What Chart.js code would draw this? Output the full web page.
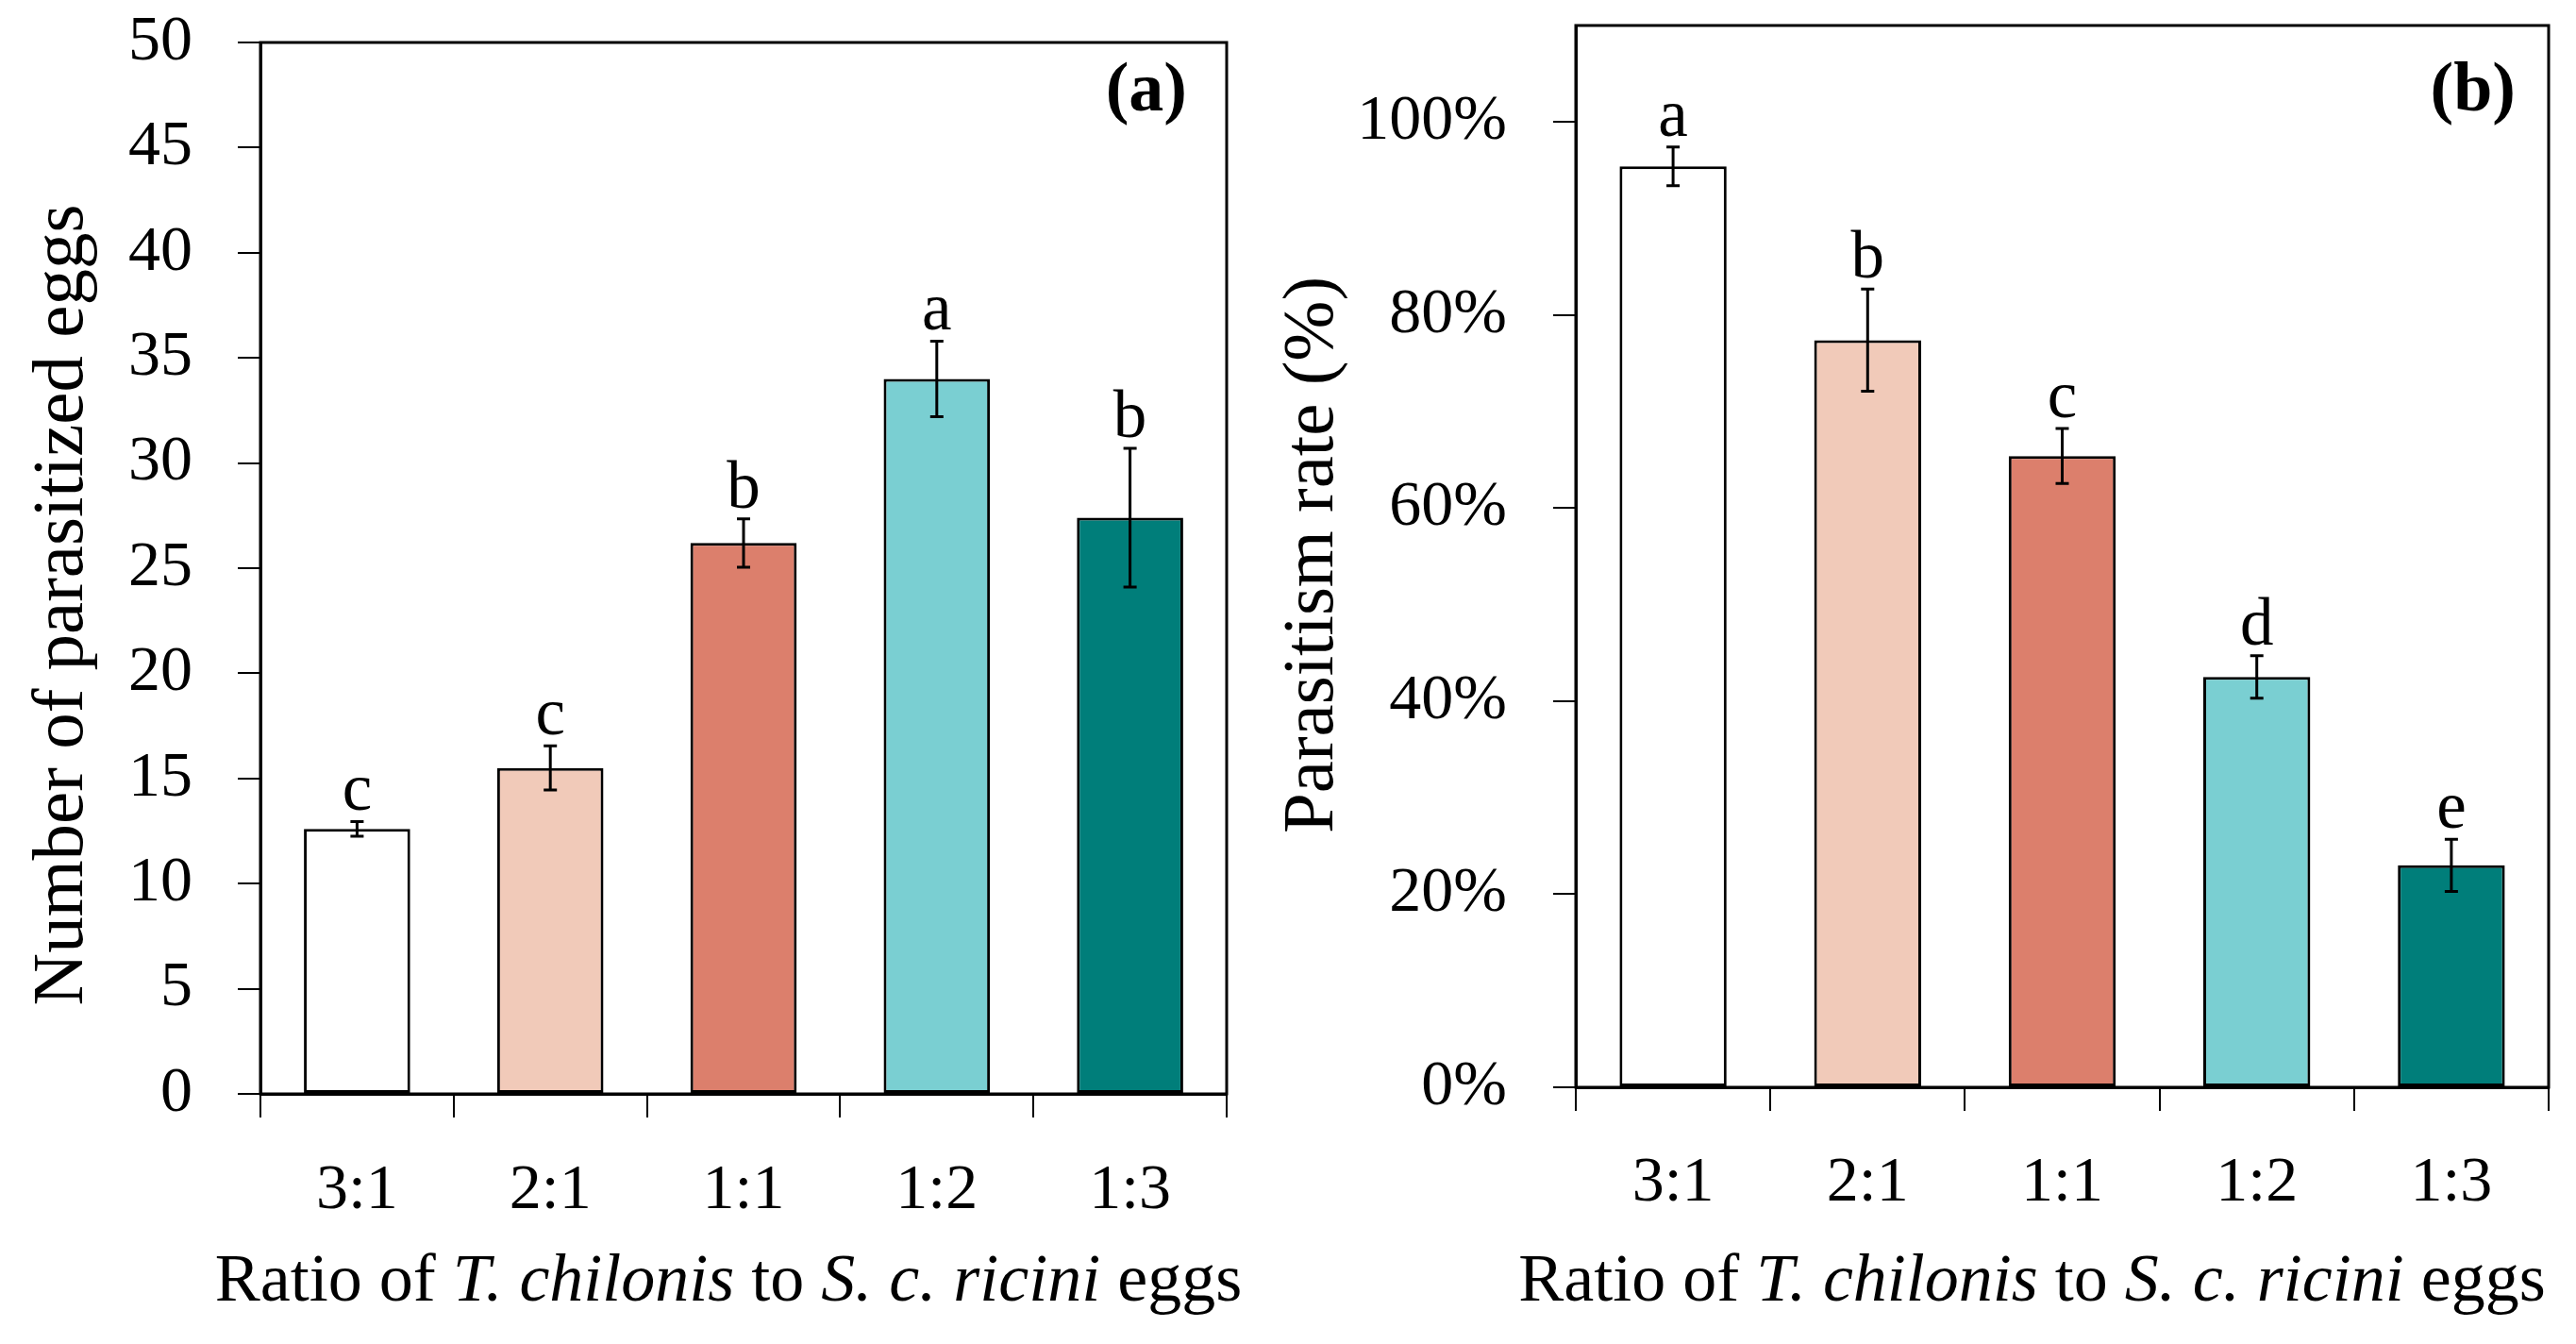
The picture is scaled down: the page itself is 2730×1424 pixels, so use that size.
<!DOCTYPE html>
<html>
<head>
<meta charset="utf-8">
<script src="https://cdn.jsdelivr.net/npm/chart.js@4"></script>
<style>
  html, body { margin: 0; padding: 0; background: #fff; }
  #wrapA { position: absolute; left: 0; top: 0; width: 1340px; height: 1424px; }
  #wrapB { position: absolute; left: 1340px; top: 0; width: 1390px; height: 1424px; }
</style>
</head>
<body>
<div id="wrapA"><canvas id="eggs"></canvas></div>
<div id="wrapB"><canvas id="rate"></canvas></div>
<script>
// ratios on the x axis
const ratios = ['3:1', '2:1', '1:1', '1:2', '1:3'];
const barColors = ['#ffffff', '#f1cab9', '#dc7f6c', '#7acfd2', '#007e7a'];

// (a) number of parasitized eggs
const eggMeans = [12.6, 15.5, 26.2, 34.0, 27.4];
const eggErrors = [0.35, 1.05, 1.15, 1.8, 3.3];
const eggLetters = ['c', 'c', 'b', 'a', 'b'];
const eggTicks = [0, 5, 10, 15, 20, 25, 30, 35, 40, 45, 50];

// (b) parasitism rate, %
const rateMeans = [95.4, 77.4, 65.4, 42.5, 23.0];
const rateErrors = [2.0, 5.3, 2.85, 2.2, 2.7];
const rateLetters = ['a', 'b', 'c', 'd', 'e'];
const rateTicks = [0, 20, 40, 60, 80, 100];

const serif = '"Liberation Serif", "Times New Roman", serif';
const xTitleParts = [
    ['Ratio of ', false],
    ['T. chilonis', true],
    [' to ', false],
    ['S. c. ricini', true],
    [' eggs', false]
];

// error bars, letters, frame, panel tag and axis titles
const decorations = {
    id: 'decorations',
    afterDatasetsDraw(chart, args, opts) {
        const ctx = chart.ctx;
        const area = chart.chartArea;
        const y = chart.scales.y;
        const meta = chart.getDatasetMeta(0);
        const means = chart.data.datasets[0].data;

        ctx.save();
        ctx.strokeStyle = '#000';
        ctx.fillStyle = '#000';
        ctx.lineWidth = 3;

        meta.data.forEach((bar, i) => {
            const top = y.getPixelForValue(means[i] + opts.errors[i]);
            const bottom = y.getPixelForValue(means[i] - opts.errors[i]);
            ctx.beginPath();
            ctx.moveTo(bar.x, top);
            ctx.lineTo(bar.x, bottom);
            ctx.moveTo(bar.x - 7, top);
            ctx.lineTo(bar.x + 7, top);
            ctx.moveTo(bar.x - 7, bottom);
            ctx.lineTo(bar.x + 7, bottom);
            ctx.stroke();

            ctx.font = '71px ' + serif;
            ctx.textAlign = 'center';
            ctx.textBaseline = 'alphabetic';
            ctx.fillText(opts.letters[i], bar.x, top - 12);
        });

        // frame
        ctx.lineWidth = 3;
        ctx.strokeRect(area.left, area.top, area.right - area.left, area.bottom - area.top);

        // panel tag
        ctx.font = 'bold 74px ' + serif;
        ctx.textAlign = 'right';
        ctx.fillText(opts.tag, area.right - opts.tagInset, 117);

        // x title with italic species names
        let total = 0;
        const widths = xTitleParts.map(([text, italic]) => {
            ctx.font = (italic ? 'italic ' : '') + '72px ' + serif;
            const w = ctx.measureText(text).width;
            total += w;
            return w;
        });
        let x = (area.left + area.right) / 2 + opts.xTitleShift - total / 2;
        ctx.textAlign = 'left';
        xTitleParts.forEach(([text, italic], i) => {
            ctx.font = (italic ? 'italic ' : '') + '72px ' + serif;
            ctx.fillText(text, x, 1378);
            x += widths[i];
        });

        // y title
        ctx.translate(opts.yTitleX, opts.yTitleY);
        ctx.rotate(-Math.PI / 2);
        ctx.font = '77px ' + serif;
        ctx.textAlign = 'center';
        ctx.textBaseline = 'middle';
        ctx.fillText(opts.yTitle, 0, 0);
        ctx.restore();
    }
};

function makeChart(canvasId, means, cfg) {
    return new Chart(document.getElementById(canvasId), {
        type: 'bar',
        data: {
            labels: ratios,
            datasets: [{
                data: means,
                backgroundColor: barColors,
                borderColor: '#000',
                borderWidth: 3,
                borderSkipped: false,
                categoryPercentage: 1,
                barPercentage: 0.55
            }]
        },
        plugins: [decorations],
        options: {
            responsive: true,
            maintainAspectRatio: false,
            animation: false,
            layout: { padding: { top: cfg.top, right: cfg.right, left: 0, bottom: 0 } },
            plugins: {
                legend: { display: false },
                tooltip: { enabled: false },
                decorations: cfg.deco
            },
            scales: {
                x: {
                    grid: {
                        offset: true,
                        drawOnChartArea: false,
                        color: '#000',
                        lineWidth: 2,
                        tickLength: 25
                    },
                    border: { color: '#000', width: 3 },
                    ticks: {
                        color: '#000',
                        font: { family: serif, size: 68 },
                        padding: cfg.xPad,
                        maxRotation: 0
                    },
                    afterFit(scale) {
                        scale.height = 1424 - cfg.bottom;
                        scale.paddingLeft = 0;
                        scale.paddingRight = 0;
                    }
                },
                y: {
                    min: 0,
                    max: cfg.max,
                    grid: {
                        drawOnChartArea: false,
                        color: '#000',
                        lineWidth: 2,
                        tickLength: 24
                    },
                    border: { color: '#000', width: 3 },
                    afterBuildTicks(scale) {
                        scale.ticks = cfg.ticks.map(v => ({ value: v }));
                    },
                    ticks: {
                        color: '#000',
                        font: { family: serif, size: 68 },
                        padding: cfg.yPad,
                        callback: cfg.format
                    },
                    afterFit(scale) {
                        scale.width = cfg.left;
                        scale.paddingTop = 0;
                        scale.paddingBottom = 0;
                    }
                }
            }
        }
    });
}

makeChart('eggs', eggMeans, {
    top: 45, right: 40, left: 276, bottom: 1159, max: 50, xPad: 37, yPad: 48,
    ticks: eggTicks,
    format: v => String(v),
    deco: {
        errors: eggErrors, letters: eggLetters, tag: '(a)', tagInset: 42,
        xTitleShift: -16, yTitle: 'Number of parasitized eggs', yTitleX: 67, yTitleY: 641
    }
});

makeChart('rate', rateMeans, {
    top: 27, right: 29, left: 330, bottom: 1152, max: 110, xPad: 36, yPad: 49,
    ticks: rateTicks,
    format: v => v + '%',
    deco: {
        errors: rateErrors, letters: rateLetters, tag: '(b)', tagInset: 35,
        xTitleShift: -32, yTitle: 'Parasitism rate (%)', yTitleX: 52, yTitleY: 588
    }
});
</script>
</body>
</html>
